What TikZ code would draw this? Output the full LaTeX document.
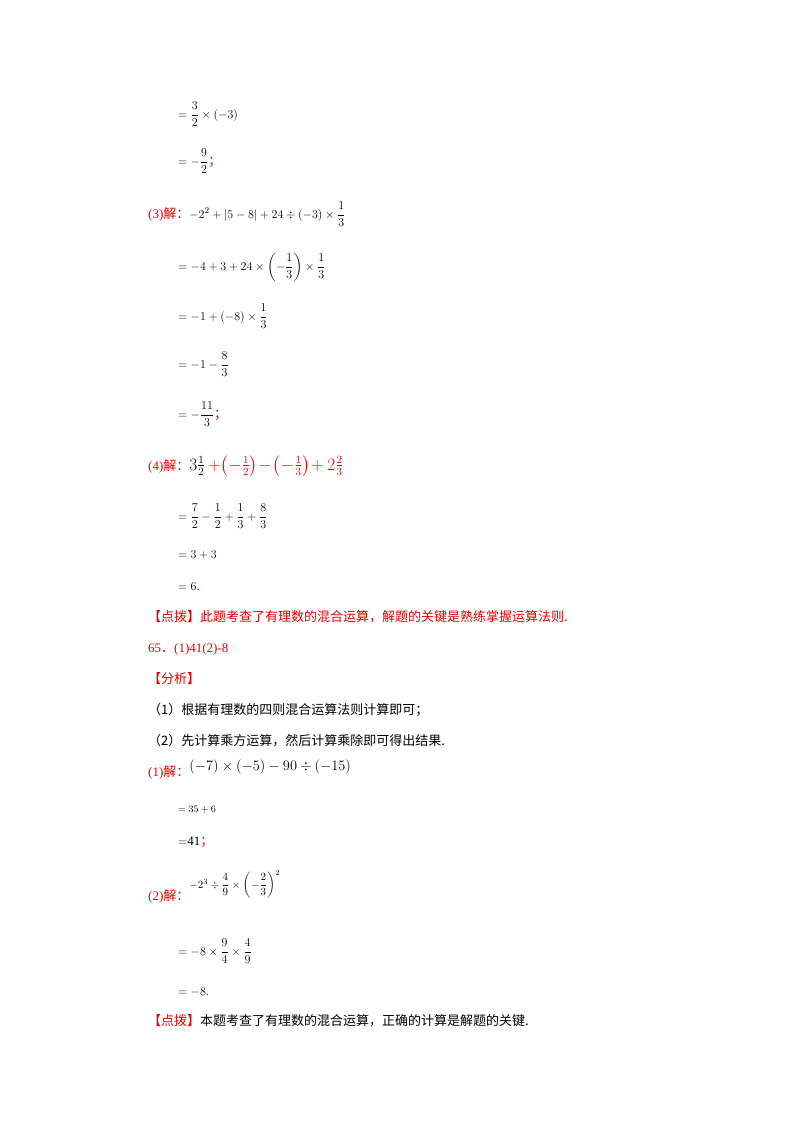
\documentclass[tikz,border=0pt]{standalone}
\usepackage{fontspec}
\usepackage{amsmath}
\setmainfont{Liberation Serif}
\newfontfamily\cjk{Noto Sans CJK SC}
\definecolor{rd}{RGB}{230,0,0}
\begin{document}
\begin{tikzpicture}[x=1pt,y=-1pt,every node/.style={anchor=base west,inner sep=0pt,font=\fontsize{13}{15}\selectfont}]
\useasboundingbox (0,0) rectangle (800,1132);
\fill[white] (0,0) rectangle (800,1132);
\node (a1) at (178,118) {$=\dfrac{3}{2}\times(-3)$};
\node (a2) at (178,165) {$=-\dfrac{9}{2}$\textcolor{rd}{\cjk ；}};
\node (b0) at (148,218) {\textcolor{rd}{(3)\cjk 解：}$-2^2+\left|5-8\right|+24\div(-3)\times\dfrac{1}{3}$};
\node (b1) at (178,270) {$=-4+3+24\times\left(-\dfrac{1}{3}\right)\times\dfrac{1}{3}$};
\node (b2) at (178,320) {$=-1+\left(-8\right)\times\dfrac{1}{3}$};
\node (b3) at (178,368) {$=-1-\dfrac{8}{3}$};
\node (b4) at (178,418) {$=-\dfrac{11}{3}$\textcolor{rd}{\cjk ；}};
\node (c0) at (148,470) {\textcolor{rd}{(4)\cjk 解：}{\fontsize{16}{18}\selectfont$3\frac{1}{2}$\textcolor{rd}{$\,+\!\left(-\frac{1}{2}\right)\!-\!\left(-\frac{1}{3}\right)\!+2\frac{2}{3}$}}};
\node (c1) at (178,520) {$=\dfrac{7}{2}-\dfrac{1}{2}+\dfrac{1}{3}+\dfrac{8}{3}$};
\node (c2) at (178,558) {$=3+3$};
\node (c3) at (178,590) {$=6$\textcolor{rd}{.}};
\node[text=rd] (d1) at (148,621) {\cjk 【点拨】此题考查了有理数的混合运算，解题的关键是熟练掌握运算法则.};
\node[text=rd] (d2) at (148,652) {65\cjk ．\rmfamily(1)41(2)-8};
\node[text=rd] (d3) at (148,683) {\cjk 【分析】};
\node (d4) at (148,714) {\cjk （1）根据有理数的四则混合运算法则计算即可；};
\node (d5) at (148,745) {\cjk （2）先计算乘方运算，然后计算乘除即可得出结果.};
\node (e0) at (148,776) {\textcolor{rd}{(1)\cjk 解：}\raisebox{6pt}{\fontsize{15}{17}\selectfont$\left(-7\right)\times\left(-5\right)-90\div\left(-15\right)$}};
\node[font=\fontsize{10}{12}\selectfont] (e1) at (178,812) {$=35+6$};
\node (e2) at (178,845) {$=$41\textcolor{rd}{\cjk ；}};
\node (f0) at (148,900) {\textcolor{rd}{(2)\cjk 解：}\raisebox{12pt}{\fontsize{11}{13}\selectfont$-2^3\div\dfrac{4}{9}\times\left(-\dfrac{2}{3}\right)^2$}};
\node (f1) at (178,955) {$=-8\times\dfrac{9}{4}\times\dfrac{4}{9}$};
\node (f2) at (178,995) {$=-8$\textcolor{rd}{.}};
\node (g1) at (148,1025) {\textcolor{rd}{\cjk 【点拨】}\cjk 本题考查了有理数的混合运算，正确的计算是解题的关键.};
\end{tikzpicture}
\end{document}
